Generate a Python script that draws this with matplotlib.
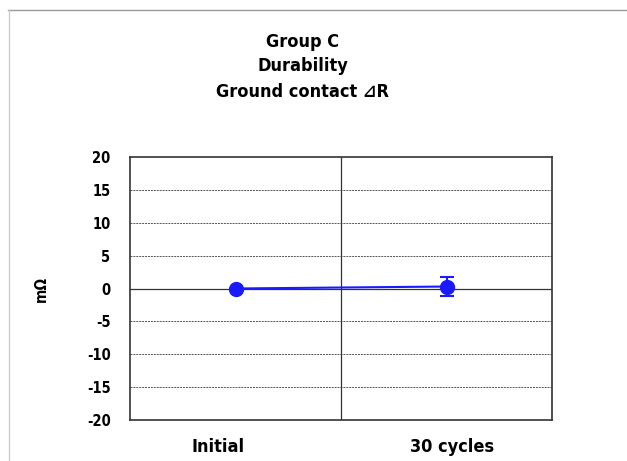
import matplotlib
matplotlib.use("Agg")
import matplotlib.pyplot as plt
from matplotlib.lines import Line2D
from matplotlib.transforms import ScaledTranslation

categories = ["Initial", "30 cycles"]
values = [0.0, 0.3]
errors = [0.0, 1.5]
yticks = [-20, -15, -10, -5, 0, 5, 10, 15, 20]

plt.rcParams['font.family'] = ['Liberation Sans', 'DejaVu Sans']

fig = plt.figure(figsize=(6.27, 4.61), dpi=100)
ax = fig.add_axes([130/627, 1 - 420/461, (552-130)/627, (420-157)/461])

xpos = [i + 0.5 for i in range(len(categories))]
ax.set_xlim(0, len(categories))
ax.set_ylim(-20, 20)

for y in yticks[1:-1]:
    if y == 0:
        ax.axhline(y, color='#333333', lw=0.9, zorder=1)
    else:
        ax.axhline(y, color='#555555', lw=0.7, ls=(0, (2, 1)), zorder=1)
ax.axvline(1, color='#333333', lw=0.9, zorder=1)

ax.errorbar(xpos, values, yerr=errors, color='#1a1aff', lw=1.5, marker='o',
            markersize=10, capsize=5, capthick=1.5, elinewidth=1.5, zorder=3)

cond = dict(family=['DejaVu Sans'], fontstretch='condensed', fontweight='bold')

ax.set_yticks(yticks)
ax.set_yticklabels([str(t) for t in yticks], fontsize=10.5, **cond)
ax.set_xticks(xpos)
ax.set_xticklabels(categories, fontsize=13, **cond)
ax.tick_params(axis='y', length=0, pad=14)
ax.tick_params(axis='x', length=0, pad=13)
shifts = [-17, 6]
for lab, dx in zip(ax.get_xticklabels(), shifts):
    lab.set_transform(lab.get_transform() + ScaledTranslation(dx/100, 0, fig.dpi_scale_trans))
for s in ax.spines.values():
    s.set_color('#333333')
    s.set_linewidth(1.2)

ax.set_ylabel("mΩ", fontsize=11, labelpad=27, **cond)

tx = 303/627
fig.text(tx, 1 - 42/461, "Group C", ha='center', va='center', fontsize=13, **cond)
fig.text(tx, 1 - 66/461, "Durability", ha='center', va='center', fontsize=13, **cond)
fig.text(tx, 1 - 92/461, "Ground contact \u22bfR", ha='center', va='center', fontsize=13, **cond)

# outer frame lines
fig.add_artist(Line2D([8/627, 1], [1 - 10/461, 1 - 10/461], transform=fig.transFigure,
                      color='#999999', lw=1))
fig.add_artist(Line2D([9/627, 9/627], [0, 1 - 10/461], transform=fig.transFigure,
                      color='#cccccc', lw=1))

fig.savefig("out.png", dpi=100)
